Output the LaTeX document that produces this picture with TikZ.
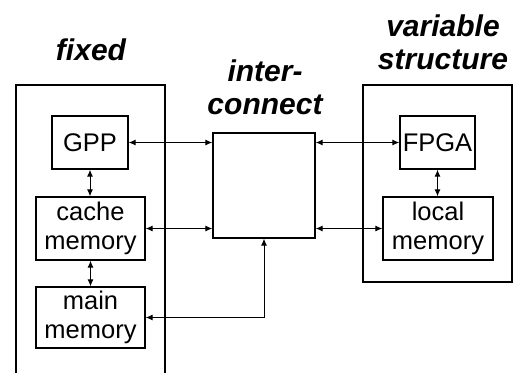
\documentclass[tikz,border=0pt]{standalone}
\usepackage{fontspec}
\setmainfont{Liberation Sans}
\usetikzlibrary{arrows.meta}

\begin{document}
\begin{tikzpicture}[
  x=1pt, y=-1pt,
  box/.style={draw, line width=1.3pt, inner sep=0pt, align=center,
    font=\fontsize{25.5}{29}\selectfont},
  lbl/.style={align=center, font=\fontsize{30}{33}\selectfont\bfseries\itshape},
  arr/.style={{Latex[length=7pt,width=6pt]}-{Latex[length=7pt,width=6pt]}, line width=1pt}
]
\useasboundingbox (0,0) rectangle (513,373);

% fixed side
\draw[line width=1.3pt] (16,373) |- (165,85) -- (165,373);
\node[box, minimum width=76pt, minimum height=53pt] (gpp) at (90,142.5) {GPP};
\node[box, minimum width=109pt, minimum height=63pt] (cache) at (90.5,228.5) {cache\\memory};
\node[box, minimum width=109pt, minimum height=61pt] (main) at (90.5,317.5) {main\\memory};

% interconnect
\node[box, minimum width=102pt, minimum height=105pt] (ic) at (264,185.5) {};

% variable structure side
\node[box, minimum width=149pt, minimum height=197pt] (var) at (437.5,183.5) {};
\node[box, minimum width=75pt, minimum height=53pt] (fpga) at (437.5,142.5) {FPGA};
\node[box, minimum width=110pt, minimum height=63pt] (local) at (438,228.5) {local\\memory};

% labels
\node[lbl] (lfix) at (91,50) {fixed};
\node[lbl] (lic) at (265,87) {inter-\\connect};
\node[lbl] (lvar) at (443,42) {variable\\structure};

% connections
\draw[arr] (gpp.south) -- (gpp.south |- cache.north);
\draw[arr] (cache.south) -- (main.north);
\draw[arr] (gpp.east) -- (gpp.east -| ic.west);
\draw[arr] (cache.east) -- (cache.east -| ic.west);
\draw[arr] (main.east) -| (ic.south);
\draw[arr] (ic.east |- fpga.west) -- (fpga.west);
\draw[arr] (ic.east |- local.west) -- (local.west);
\draw[arr] (fpga.south) -- (fpga.south |- local.north);
\end{tikzpicture}
\end{document}
